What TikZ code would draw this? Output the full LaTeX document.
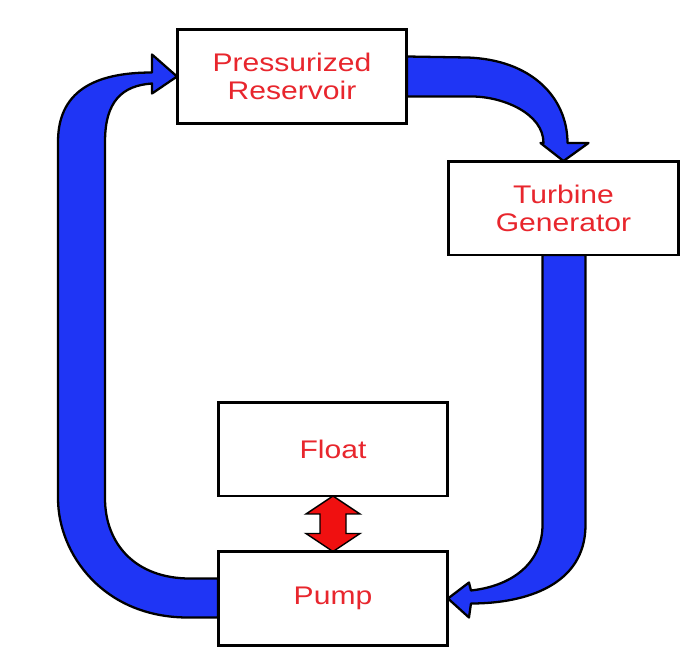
\documentclass[tikz,border=0pt]{standalone}
\usepackage{fontspec}
\usepackage{tikz}
\usetikzlibrary{calc, backgrounds}
\newfontfamily\boxfont[FakeStretch=1.18]{Liberation Sans}
\definecolor{flowBlue}{HTML}{1F35F5}
\definecolor{labelRed}{HTML}{E8262D}
\definecolor{liftRed}{HTML}{F01010}

\begin{document}
\begin{tikzpicture}[
  x=0.02cm, y=-0.02cm,
  block/.style={
    rectangle, draw=black, line width=1.7pt, fill=white,
    minimum width=4.6cm, minimum height=1.88cm, outer sep=0pt,
    text=labelRed, align=center,
    font=\boxfont\fontsize{14.5}{16}\selectfont
  },
  flow/.style={fill=flowBlue, draw=black, line width=1.3pt, line join=round},
  updown/.style={fill=liftRed, draw=black, line width=0.8pt, line join=miter},
]

\useasboundingbox (0,0) rectangle (697,660);

% Boxes
\node[block] (res) at (292,76.5) {Pressurized\\Reservoir};
\node[block] (tur) at (563.5,208) {Turbine\\Generator};
\node[block] (flo) at (333,449) {Float};
\node[block] (pump) at (333,598.5) {Pump};

\begin{scope}[on background layer]
% Reservoir to turbine
\filldraw[flow] ($(res.east)+(0,-20)$) -- ++(60,1)
  .. controls +(65,2) and +(0,-45) .. ($(tur.north)+(4,-18)$)
  -- ($(tur.north)+(25,-18)$) -- (tur.north) -- ($(tur.north)+(-23,-18)$)
  -- ($(tur.north)+(-20,-18)$)
  .. controls +(0,-30) and +(30,0) .. ($(res.east)+(65,20)$)
  -- ($(res.east)+(0,20)$) -- cycle;

% Turbine to pump
\filldraw[flow] ($(tur.south)+(22,0)$) -- ++(0,270)
  .. controls +(0,60) and +(55,0) .. ($(pump.east)+(23,5)$)
  -- ($(pump.east)+(21,19)$) -- (pump.east) -- ($(pump.east)+(21,-16)$)
  -- ($(pump.east)+(23,-8)$)
  .. controls +(45,-5) and +(0,35) .. ($(tur.south)+(-21,270)$)
  -- ($(tur.south)+(-21,0)$) -- cycle;

% Pump back to reservoir
\filldraw[flow] ($(pump.west)+(0,19)$) -- ++(-30,0)
  .. controls +(-85,0) and +(0,55) .. ($(pump.west)+(-160,-100)$)
  -- ($(res.west)+(-119,65)$)
  .. controls +(0,-55) and +(-50,0) .. ($(res.west)+(-25,-4)$)
  -- ($(res.west)+(-25,-22)$) -- (res.west) -- ($(res.west)+(-25,17)$)
  -- ($(res.west)+(-25,7)$)
  .. controls +(-30,2) and +(0,-40) .. ($(res.west)+(-72,65)$)
  -- ($(pump.west)+(-113,-100)$)
  .. controls +(0,45) and +(-55,0) .. ($(pump.west)+(-28,-20)$)
  -- ($(pump.west)+(0,-20)$) -- cycle;

% Float <-> pump
\filldraw[updown] (flo.south) -- ++(27,18) -- ++(-14,0)
  -- ($(pump.north)+(13,-18)$) -- ++(14,0) -- (pump.north)
  -- ++(-27,-18) -- ++(14,0) -- ($(flo.south)+(-13,18)$)
  -- ++(-14,0) -- cycle;
\end{scope}

\end{tikzpicture}
\end{document}
